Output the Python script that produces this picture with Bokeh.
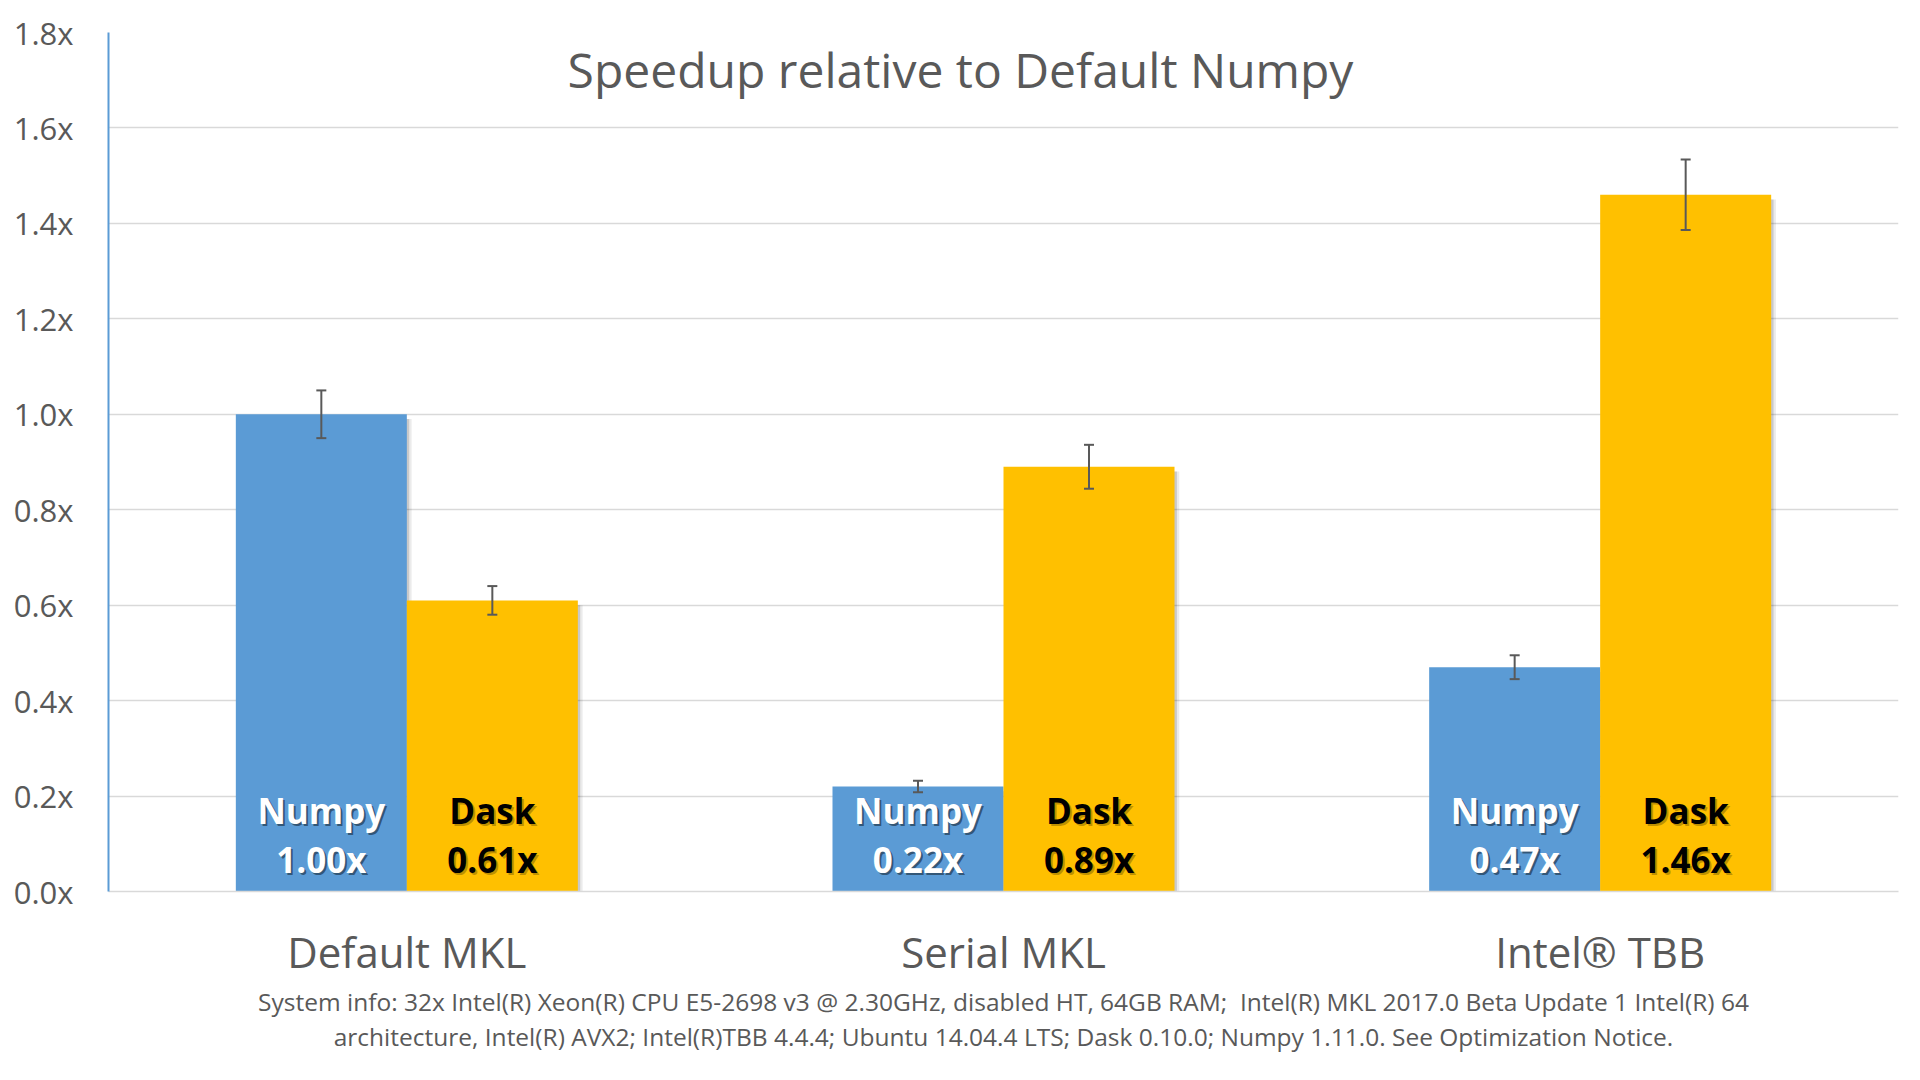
from bokeh.plotting import figure
from bokeh.models import ColumnDataSource, FactorRange, Range1d, Whisker, Label, TeeHead, FixedTicker, Title
from bokeh.transform import dodge
from bokeh.core.properties import value
from bokeh.embed import file_html
from bokeh.resources import INLINE

# ---------------- data ----------------
categories = ["Default MKL", "Serial MKL", "Intel® TBB"]
series_names = ["Numpy", "Dask"]
numpy_vals = [1.00, 0.22, 0.47]
dask_vals = [0.61, 0.89, 1.46]
numpy_err = [0.05, 0.012, 0.025]
dask_err = [0.03, 0.046, 0.074]
y_ticks = [0.0, 0.2, 0.4, 0.6, 0.8, 1.0, 1.2, 1.4, 1.6, 1.8]
y_tick_labels = ["0.0x", "0.2x", "0.4x", "0.6x", "0.8x", "1.0x", "1.2x", "1.4x", "1.6x", "1.8x"]
title_text = "Speedup relative to Default Numpy"
footer_lines = [
    "System info: 32x Intel(R) Xeon(R) CPU E5-2698 v3 @ 2.30GHz, disabled HT, 64GB RAM;\u00a0 Intel(R) MKL 2017.0 Beta Update 1 Intel(R) 64",
    "architecture, Intel(R) AVX2; Intel(R)TBB 4.4.4; Ubuntu 14.04.4 LTS; Dask 0.10.0; Numpy 1.11.0. See Optimization Notice.",
]

# ---------------- style ----------------
BLUE = "#5B9BD5"
GOLD = "#FFC000"
GREY_TXT = "#595959"
GRID = "#D9D9D9"
FONT = "Open Sans"
OFF = 0.1433
W = 0.2866

src = ColumnDataSource(dict(
    cat=categories,
    numpy=numpy_vals,
    dask=dask_vals,
    numpy_lo=[v - e for v, e in zip(numpy_vals, numpy_err)],
    numpy_hi=[v + e for v, e in zip(numpy_vals, numpy_err)],
    dask_lo=[v - e for v, e in zip(dask_vals, dask_err)],
    dask_hi=[v + e for v, e in zip(dask_vals, dask_err)],
    numpy_sh=[v - 0.01 for v in numpy_vals],
    dask_sh=[v - 0.01 for v in dask_vals],
    numpy_name=[series_names[0]] * len(categories),
    dask_name=[series_names[1]] * len(categories),
    numpy_lbl=[f"{v:.2f}x" for v in numpy_vals],
    dask_lbl=[f"{v:.2f}x" for v in dask_vals],
    zero=[0.0] * len(categories),
))

p = figure(
    width=1920, height=1080,
    x_range=FactorRange(*categories, range_padding=0.0),
    y_range=Range1d(0, 1.8),
    output_backend="svg", toolbar_location=None,
    min_border_left=108, min_border_right=22, min_border_top=32, min_border_bottom=189,
)
p.outline_line_color = None
p.background_fill_color = "white"
p.border_fill_color = "white"

# grid
p.xgrid.grid_line_color = None
p.ygrid.grid_line_color = GRID
p.ygrid.grid_line_width = 1.5
p.yaxis.ticker = FixedTicker(ticks=y_ticks)
p.yaxis.major_label_overrides = {t: l for t, l in zip(y_ticks, y_tick_labels)}

# axes
p.yaxis.axis_line_color = BLUE
p.yaxis.axis_line_width = 2
p.yaxis.major_tick_line_color = None
p.yaxis.minor_tick_line_color = None
p.yaxis.major_label_standoff = 29
p.yaxis.major_label_text_font = FONT
p.yaxis.major_label_text_font_size = "31px"
p.yaxis.major_label_text_color = GREY_TXT

p.xaxis.axis_line_color = GRID
p.xaxis.axis_line_width = 1.5
p.xaxis.major_tick_line_color = None
p.xaxis.minor_tick_line_color = None
p.xaxis.major_label_standoff = 25
p.xaxis.major_label_text_font = FONT
p.xaxis.major_label_text_font_size = "42px"
p.xaxis.major_label_text_color = GREY_TXT

# shadows
for dx, a in [(0.004, 0.14), (0.008, 0.08)]:
    p.vbar(x=dodge("cat", -OFF + dx, range=p.x_range), top="numpy_sh", width=W, source=src,
           fill_color="black", fill_alpha=a, line_color=None)
    p.vbar(x=dodge("cat", OFF + dx, range=p.x_range), top="dask_sh", width=W, source=src,
           fill_color="black", fill_alpha=a, line_color=None)

# bars
p.vbar(x=dodge("cat", -OFF, range=p.x_range), top="numpy", width=W, source=src,
       fill_color=BLUE, line_color=None)
p.vbar(x=dodge("cat", OFF, range=p.x_range), top="dask", width=W, source=src,
       fill_color=GOLD, line_color=None)

# error bars
for off, lo, hi in [(-OFF, "numpy_lo", "numpy_hi"), (OFF, "dask_lo", "dask_hi")]:
    w = Whisker(base=dodge("cat", off, range=p.x_range), lower=lo, upper=hi, source=src,
                line_color=GREY_TXT, line_width=2, level="overlay",
                upper_head=TeeHead(size=10, line_color=GREY_TXT, line_width=2),
                lower_head=TeeHead(size=10, line_color=GREY_TXT, line_width=2))
    p.add_layout(w)

# in-bar labels
def bar_text(off, col, yoff, color, shadow_color, shadow_alpha):
    p.text(x=dodge("cat", off, range=p.x_range), y="zero", text=col, source=src,
           x_offset=2, y_offset=yoff + 2, text_align="center", text_baseline="alphabetic",
           text_font=value(FONT), text_font_style="bold", text_font_size="35px",
           text_color=shadow_color, text_alpha=shadow_alpha)
    p.text(x=dodge("cat", off, range=p.x_range), y="zero", text=col, source=src,
           y_offset=yoff, text_align="center", text_baseline="alphabetic",
           text_font=value(FONT), text_font_style="bold", text_font_size="35px",
           text_color=color)

bar_text(-OFF, "numpy_name", -81, "white", "black", 0.45)
bar_text(-OFF, "numpy_lbl", -32, "white", "black", 0.45)
bar_text(OFF, "dask_name", -81, "black", "#7f6000", 0.5)
bar_text(OFF, "dask_lbl", -32, "black", "#7f6000", 0.5)

# title inside the chart area (centered on the whole chart)
p.add_layout(Label(x=852, y=822, x_units="screen", y_units="screen", text=title_text,
                   text_align="center", text_baseline="middle", text_font=FONT,
                   text_font_size="48px", text_color=GREY_TXT))

# footer as titles below the x axis
for i, line in enumerate(footer_lines):
    t = Title(text=line, align="center", text_font=FONT, text_font_size="24.5px",
              text_font_style="normal", text_color=GREY_TXT, standoff=0, offset=0)
    p.add_layout(t, "below")

open("out.html", "w").write(file_html(p, INLINE))
